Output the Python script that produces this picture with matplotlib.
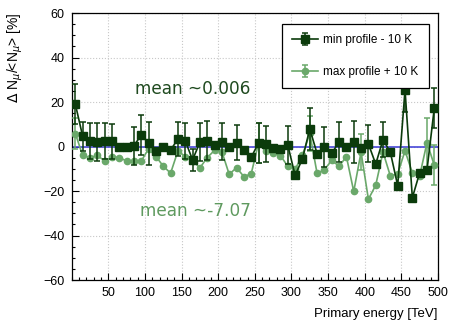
import matplotlib
matplotlib.use("Agg")
import matplotlib.pyplot as plt
from matplotlib.ticker import MultipleLocator
import numpy as np

# primary energy bins [TeV]
energy = [5, 15, 25, 35, 45, 55, 65, 75, 85, 95,
          105, 115, 125, 135, 145, 155, 165, 175, 185, 195,
          205, 215, 225, 235, 245, 255, 265, 275, 285, 295,
          305, 315, 325, 335, 345, 355, 365, 375, 385, 395,
          405, 415, 425, 435, 445, 455, 465, 475, 485, 495]

# min profile - 10 K
min_prof = [19.0, 4.6, 2.5, 1.9, 2.6, 2.3, 0.0, -0.4, 0.3, 5.3,
            1.4, -2.1, -0.3, -1.6, 3.4, 2.6, -6.0, 1.9, 2.6, 0.5,
            2.2, -0.3, 1.8, -1.5, -4.9, 1.6, 1.1, -0.6, -1.0, 0.6,
            -13.0, -5.5, 7.9, -3.2, -0.2, -3.0, 2.0, -0.4, 2.0, -0.5,
            1.2, -7.9, 3.1, -2.6, -17.6, 25.5, -23.0, -11.8, -10.5, 17.4]
min_err = [9.0, 6.5, 8.0, 8.5, 8.0, 8.0, 1.0, 1.0, 8.5, 9.0,
           9.5, 1.0, 1.0, 1.0, 7.5, 8.0, 5.0, 8.5, 8.8, 1.0,
           8.3, 1.0, 8.0, 1.0, 1.0, 9.0, 8.0, 1.0, 1.0, 8.5,
           1.0, 1.0, 9.5, 1.0, 9.0, 1.0, 9.0, 1.0, 9.5, 1.0,
           8.3, 1.0, 8.0, 1.0, 1.0, 10.0, 1.0, 1.0, 1.0, 9.0]

# max profile + 10 K
max_prof = [5.8, -4.0, -5.0, -4.0, -6.5, -4.7, -5.0, -6.5, -6.5, -6.5,
            -1.0, -4.5, -8.8, -12.0, -2.0, -4.6, -6.3, -9.6, -5.0, -1.7,
            -2.3, -12.5, -9.5, -13.5, -12.3, 1.5, -2.0, -2.8, -4.1, -8.9,
            -10.2, -4.0, 5.9, -12.1, -10.4, -6.2, -8.9, -4.5, -20.2, -2.5,
            -23.7, -17.4, -2.5, -13.3, -12.3, -1.9, -11.9, -13.2, 1.8, -8.5]
max_err = [7.0, 0, 0, 0, 0, 0, 0, 0, 0, 0,
           0, 0, 0, 0, 0, 0, 0, 0, 0, 0,
           0, 0, 0, 0, 0, 9.0, 0, 0, 0, 0,
           0, 0, 8.0, 0, 0, 0, 0, 0, 0, 8.0,
           0, 0, 0, 0, 0, 0, 0, 0, 11.0, 9.0]

dark = '#0b3b0b'
light = '#6aa86a'

plt.rcParams['font.family'] = ['Liberation Sans', 'DejaVu Sans']

fig = plt.figure(figsize=(4.52, 3.27), dpi=100)
ax = fig.add_axes([0.1586, 0.1437, 0.8104, 0.8165])

ax.axhline(0, color='#4848d8', lw=1.2, zorder=2)

ax.errorbar(energy, max_prof, yerr=max_err, fmt='-o', color=light, ms=4.5,
            lw=1.2, elinewidth=1.1, capsize=2, capthick=1.1, zorder=3,
            label='max profile + 10 K')
ax.errorbar(energy, min_prof, yerr=min_err, fmt='-s', color=dark, ms=5.3,
            lw=1.2, elinewidth=1.1, capsize=2, capthick=1.1, zorder=4,
            label='min profile - 10 K')

ax.set_xlim(0, 500)
ax.set_ylim(-60, 60)
ax.xaxis.set_major_locator(MultipleLocator(50))
ax.xaxis.set_minor_locator(MultipleLocator(10))
ax.yaxis.set_major_locator(MultipleLocator(20))
ax.yaxis.set_minor_locator(MultipleLocator(5))
ax.set_xticks([50, 100, 150, 200, 250, 300, 350, 400, 450, 500])
ax.tick_params(which='both', direction='in', top=False, right=False,
               labelsize=9, colors='black')
ax.tick_params(which='major', length=5, width=0.8, pad=5)
ax.tick_params(which='minor', length=2.5, width=0.8)
ax.grid(True, which='major', ls=':', color='#c8c8c8', lw=0.8, zorder=0)
for s in ax.spines.values():
    s.set_linewidth(0.9)

ax.text(86, 25.8, 'mean ~0.006', color='#1f4a1f', fontsize=12.2,
        family='DejaVu Sans', va='center', ha='left')
ax.text(93, -29, 'mean ~-7.07', color='#5f9a5f', fontsize=12.2,
        family='DejaVu Sans', va='center', ha='left')

h, l = ax.get_legend_handles_labels()
leg = ax.legend(h[::-1], l[::-1], loc='upper left',
                bbox_to_anchor=(282 / 452, 1 - 24 / 327),
                bbox_transform=fig.transFigure, fontsize=8.5,
                fancybox=False, edgecolor='black', framealpha=1,
                borderpad=0.85, labelspacing=1.7, handlelength=2.2,
                handletextpad=0.45, borderaxespad=0)
leg.get_frame().set_linewidth(0.9)

fig.text(438 / 452, 1 - 314 / 327, 'Primary energy [TeV]', ha='right',
         va='center', fontsize=9.5)
fig.text(15 / 452, 1 - 12 / 327, r'$\Delta$ N$_{\mu}$/<N$_{\mu}$> [%]',
         rotation=90, ha='center', va='top', fontsize=10)

fig.savefig('out.png', dpi=100)
